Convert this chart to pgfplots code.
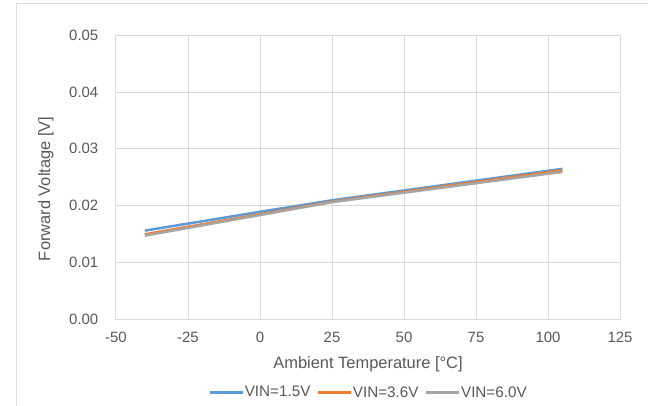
\documentclass[border=0pt]{standalone}
\usepackage{pgfplots}
\pgfplotsset{compat=1.18}
\usepackage{fontspec}
\setmainfont{Liberation Sans}
\definecolor{txt}{HTML}{595959}
\definecolor{gridc}{HTML}{D9D9D9}
\definecolor{frame}{HTML}{E0E0E0}
\definecolor{sblue}{HTML}{5B9BD5}
\definecolor{sorange}{HTML}{ED7D31}
\definecolor{sgray}{HTML}{A5A5A5}
\begin{document}
\begin{tikzpicture}[x=1bp,y=1bp]
\useasboundingbox (-116,-86) rectangle (532,319);
\clip (-116,-86) rectangle (532,319);
\fill[white] (-116,-86) rectangle (532,319);
\draw[frame, line width=1bp] (-99,316) rectangle (560,-120);
\begin{axis}[
  at={(0,0)}, anchor=south west,
  scale only axis, width=504bp, height=283.6bp,
  xmin=-50, xmax=125, ymin=0, ymax=0.05,
  xtick={-50,-25,0,25,50,75,100,125},
  ytick={0,0.01,0.02,0.03,0.04,0.05},
  scaled y ticks=false,
  grid=major,
  major grid style={gridc, line width=1bp},
  axis line style={gridc, line width=1bp},
  major tick length=0pt,
  /pgf/number format/assume math mode=true,
  yticklabel={\pgfmathprintnumber[fixed, fixed zerofill, precision=2]{\tick}},
  xticklabel style={anchor=center, yshift=-18.5bp, inner sep=0pt},
  yticklabel style={anchor=east, xshift=-17.5bp, inner sep=0pt},
  tick label style={font=\fontsize{15}{17}\selectfont, text=txt},
  label style={font=\fontsize{16.5}{18}\selectfont, text=txt},
  xlabel={Ambient Temperature [°C]},
  ylabel={Forward Voltage [V]},
  xlabel style={at={(axis description cs:0.5,-0.158)}, anchor=center, inner sep=0pt},
  ylabel style={at={(axis description cs:-0.139,0.459)}, anchor=center, inner sep=0pt},
  legend style={at={(axis description cs:0.5,-0.259)}, anchor=center, draw=none, fill=none,
    font=\fontsize{15.3}{17}\selectfont, text=txt, inner sep=0pt,
    /tikz/every even column/.append style={column sep=5bp},
    nodes={inner sep=1pt}},
  legend columns=3,
  legend image code/.code={\draw[#1, line width=2.5bp] (0bp,0bp) -- (33bp,0bp);},
  every axis plot/.append style={line width=2.5bp},
]
\addplot[sblue, no marks] coordinates {(-40,0.01558) (0,0.0189) (25,0.02093) (50,0.02266) (75,0.0244) (105,0.02647)};
\addlegendentry{VIN=1.5V}
\addplot[sorange, no marks] coordinates {(-40,0.01493) (0,0.01848) (25,0.0207) (50,0.02243) (75,0.02416) (105,0.02623)};
\addlegendentry{VIN=3.6V}
\addplot[sgray, no marks] coordinates {(-40,0.0147) (0,0.01833) (25,0.0206) (50,0.02227) (75,0.02394) (105,0.02594)};
\addlegendentry{VIN=6.0V}
\end{axis}
\end{tikzpicture}
\end{document}
